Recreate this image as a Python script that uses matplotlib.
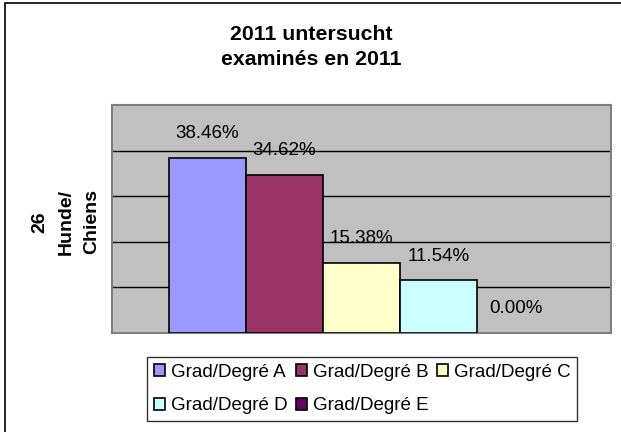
import matplotlib.pyplot as plt
from matplotlib.patches import Rectangle, Patch

plt.rcParams['font.family'] = ['Liberation Sans', 'DejaVu Sans']

# Daten
grades = ["Grad/Degré A", "Grad/Degré B", "Grad/Degré C", "Grad/Degré D", "Grad/Degré E"]
percent = [38.46, 34.62, 15.38, 11.54, 0.00]
colors = ["#9999FF", "#993366", "#FFFFCC", "#CCFFFF", "#660066"]
title = "2011 untersucht\nexaminés en 2011"
ylabel = "26\nHunde/\nChiens"

W, H = 621, 432
fig = plt.figure(figsize=(W / 100, H / 100), dpi=100)

# Rahmen um das ganze Diagramm (rechts/unten abgeschnitten)
fig.patches.append(Rectangle((4.5 / W, -0.05), 1.2, 1.05 - 2.5 / H,
                             transform=fig.transFigure, fill=False,
                             edgecolor="black", linewidth=1.2))

ax = fig.add_axes([112 / W, 1 - 333 / H, 499 / W, 228 / H])
ax.set_facecolor("#C0C0C0")

x = list(range(len(percent)))
bars = ax.bar(x, percent, width=1.0, color=colors, edgecolor="black", linewidth=1.2, zorder=3)
for b, v in zip(bars, percent):
    if v == 0:
        b.set_linewidth(0)

for xi, v in zip(x, percent):
    ax.annotate(f"{v:.2f}%", (xi, v), xytext=(0, 17.5), textcoords="offset points",
                ha="center", va="center", fontsize=13.5, zorder=4)

ax.set_ylim(0, 50)
ax.set_xlim(-0.5 - 0.74, 4.5 + 0.74)
ax.set_yticks([10, 20, 30, 40])
ax.yaxis.grid(True, color="black", linewidth=1.0, zorder=1)
ax.set_axisbelow(True)
ax.tick_params(left=False, bottom=False, labelleft=False, labelbottom=False)
for s in ax.spines.values():
    s.set_color("#808080")
    s.set_linewidth(1.5)

fig.text(311 / W, 1 - 47 / H, title, ha="center", va="center",
         fontsize=15.3, fontweight="bold", linespacing=1.35)
fig.text(66 / W, 1 - 222 / H, ylabel, ha="center", va="center", rotation=90,
         fontsize=14, fontweight="bold", linespacing=1.7, multialignment="center")

handles = [Patch(facecolor=c, edgecolor="black", linewidth=1.2) for c in colors]
order = [0, 3, 1, 4, 2]
leg = fig.legend([handles[i] for i in order], [grades[i] for i in order],
                 loc="center", bbox_to_anchor=(362 / W, 1 - 389 / H), ncol=3,
                 fontsize=13.5, frameon=True, fancybox=False, edgecolor="black",
                 handlelength=0.6, handleheight=0.6, handletextpad=0.3,
                 columnspacing=0.45, labelspacing=0.9, borderpad=0.35)
leg.get_frame().set_linewidth(1.0)

fig.savefig("out.png", dpi=100)
